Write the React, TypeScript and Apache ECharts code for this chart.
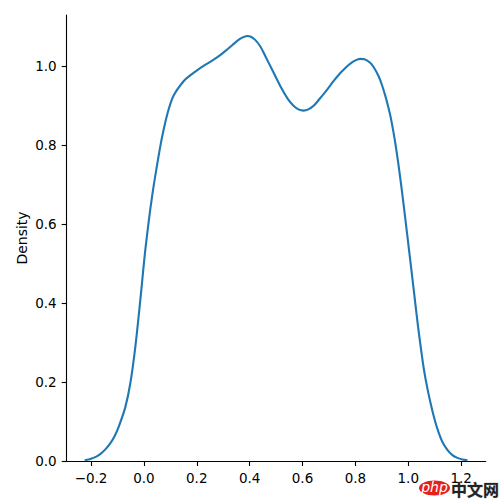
import React, { useEffect, useRef } from "react";
import * as echarts from "echarts";

const xValues = [
  -0.224, -0.2, -0.18, -0.164, -0.145, -0.126, -0.11, -0.095, -0.07, -0.051,
  -0.032, -0.013, 0.006, 0.031, 0.06, 0.075, 0.094, 0.113, 0.151, 0.175,
  0.201, 0.23, 0.264, 0.29, 0.314, 0.335, 0.352, 0.37, 0.39, 0.405,
  0.421, 0.44, 0.46, 0.49, 0.52, 0.545, 0.566, 0.585, 0.604, 0.622,
  0.642, 0.665, 0.692, 0.718, 0.743, 0.765, 0.781, 0.8, 0.818, 0.835,
  0.856, 0.87, 0.888, 0.9, 0.913, 0.923, 0.932, 0.942, 0.951, 0.963,
  0.972, 0.983, 0.993, 1.003, 1.012, 1.021, 1.03, 1.04, 1.05, 1.059,
  1.072, 1.085, 1.097, 1.11, 1.128, 1.148, 1.167, 1.186, 1.205, 1.224,
];
const densityValues = [
  0.002, 0.006, 0.011, 0.018, 0.03, 0.046, 0.064, 0.087, 0.137, 0.198,
  0.291, 0.411, 0.538, 0.67, 0.789, 0.84, 0.891, 0.926, 0.962, 0.976,
  0.989, 1.002, 1.016, 1.028, 1.041, 1.053, 1.063, 1.071, 1.076, 1.074,
  1.066, 1.05, 1.024, 0.984, 0.944, 0.916, 0.899, 0.89, 0.887, 0.89,
  0.899, 0.917, 0.939, 0.962, 0.982, 0.997, 1.006, 1.014, 1.018, 1.017,
  1.008, 0.996, 0.974, 0.953, 0.925, 0.9, 0.875, 0.84, 0.805, 0.75,
  0.705, 0.646, 0.59, 0.534, 0.483, 0.432, 0.38, 0.325, 0.275, 0.233,
  0.185, 0.145, 0.112, 0.082, 0.05, 0.028, 0.015, 0.008, 0.004, 0.002,
];
const xTicks = [-0.2, 0, 0.2, 0.4, 0.6, 0.8, 1.0, 1.2];
const yTicks = [0, 0.2, 0.4, 0.6, 0.8, 1.0];
const yLabel = "Density";

const fmt = (v: number) =>
  v < 0 ? "\u2212" + Math.abs(v).toFixed(1) : v.toFixed(1);

export default function App() {
  const ref = useRef<HTMLDivElement>(null);
  useEffect(() => {
    if (!ref.current) return;
    const chart = echarts.init(ref.current, undefined, { renderer: "svg" });
    const font = "DejaVu Sans";
    chart.setOption({
      animation: false,
      backgroundColor: "#ffffff",
      grid: { left: 66.7, right: 14.3, top: 15, bottom: 39, containLabel: false },
      xAxis: {
        type: "value",
        min: -0.292,
        max: 1.293,
        splitLine: { show: false },
        axisLine: { show: true, onZero: false, lineStyle: { color: "#000", width: 1.1 } },
        axisTick: {
          show: true,
          length: 5,
          lineStyle: { color: "#000", width: 1.1 },
          customValues: xTicks,
        },
        axisLabel: {
          customValues: xTicks,
          formatter: fmt,
          color: "#000",
          fontSize: 13.5,
          fontFamily: font,
          margin: 10,
        },
      },
      yAxis: {
        type: "value",
        min: 0,
        max: 1.129,
        name: yLabel,
        nameLocation: "middle",
        nameRotate: 90,
        nameGap: 38,
        nameMoveOverlap: false,
        nameTextStyle: { color: "#000", fontSize: 14, fontFamily: font },
        splitLine: { show: false },
        axisLine: { show: true, onZero: false, lineStyle: { color: "#000", width: 1.1 } },
        axisTick: {
          show: true,
          length: 5,
          lineStyle: { color: "#000", width: 1.1 },
          customValues: yTicks,
        },
        axisLabel: {
          customValues: yTicks,
          formatter: fmt,
          color: "#000",
          fontSize: 13.5,
          fontFamily: font,
          margin: 10,
        },
      },
      series: [
        {
          type: "line",
          data: xValues.map((x, i) => [x, densityValues[i]]),
          smooth: 0.3,
          showSymbol: false,
          lineStyle: { color: "#1f77b4", width: 2.1 },
        },
      ],
      graphic: [
        {
          type: "ellipse",
          shape: { cx: 434.5, cy: 488, rx: 15.5, ry: 7.5 },
          style: { fill: "#e4211e" },
        },
        {
          type: "text",
          x: 434.5,
          y: 487,
          style: {
            text: "php",
            fill: "#ffffff",
            font: "italic 14px 'DejaVu Sans'",
            align: "center",
            verticalAlign: "middle",
          },
        },
        {
          type: "text",
          x: 451,
          y: 489,
          style: {
            text: "中文网",
            fill: "#222222",
            stroke: "#aaaaaa",
            lineWidth: 0.5,
            font: "bold 16px 'Noto Sans CJK SC'",
            align: "left",
            verticalAlign: "middle",
          },
        },
      ],
    });
    return () => chart.dispose();
  }, []);
  return (
    <div
      ref={ref}
      style={{ position: "fixed", left: 0, top: 0, width: 500, height: 500 }}
    />
  );
}
